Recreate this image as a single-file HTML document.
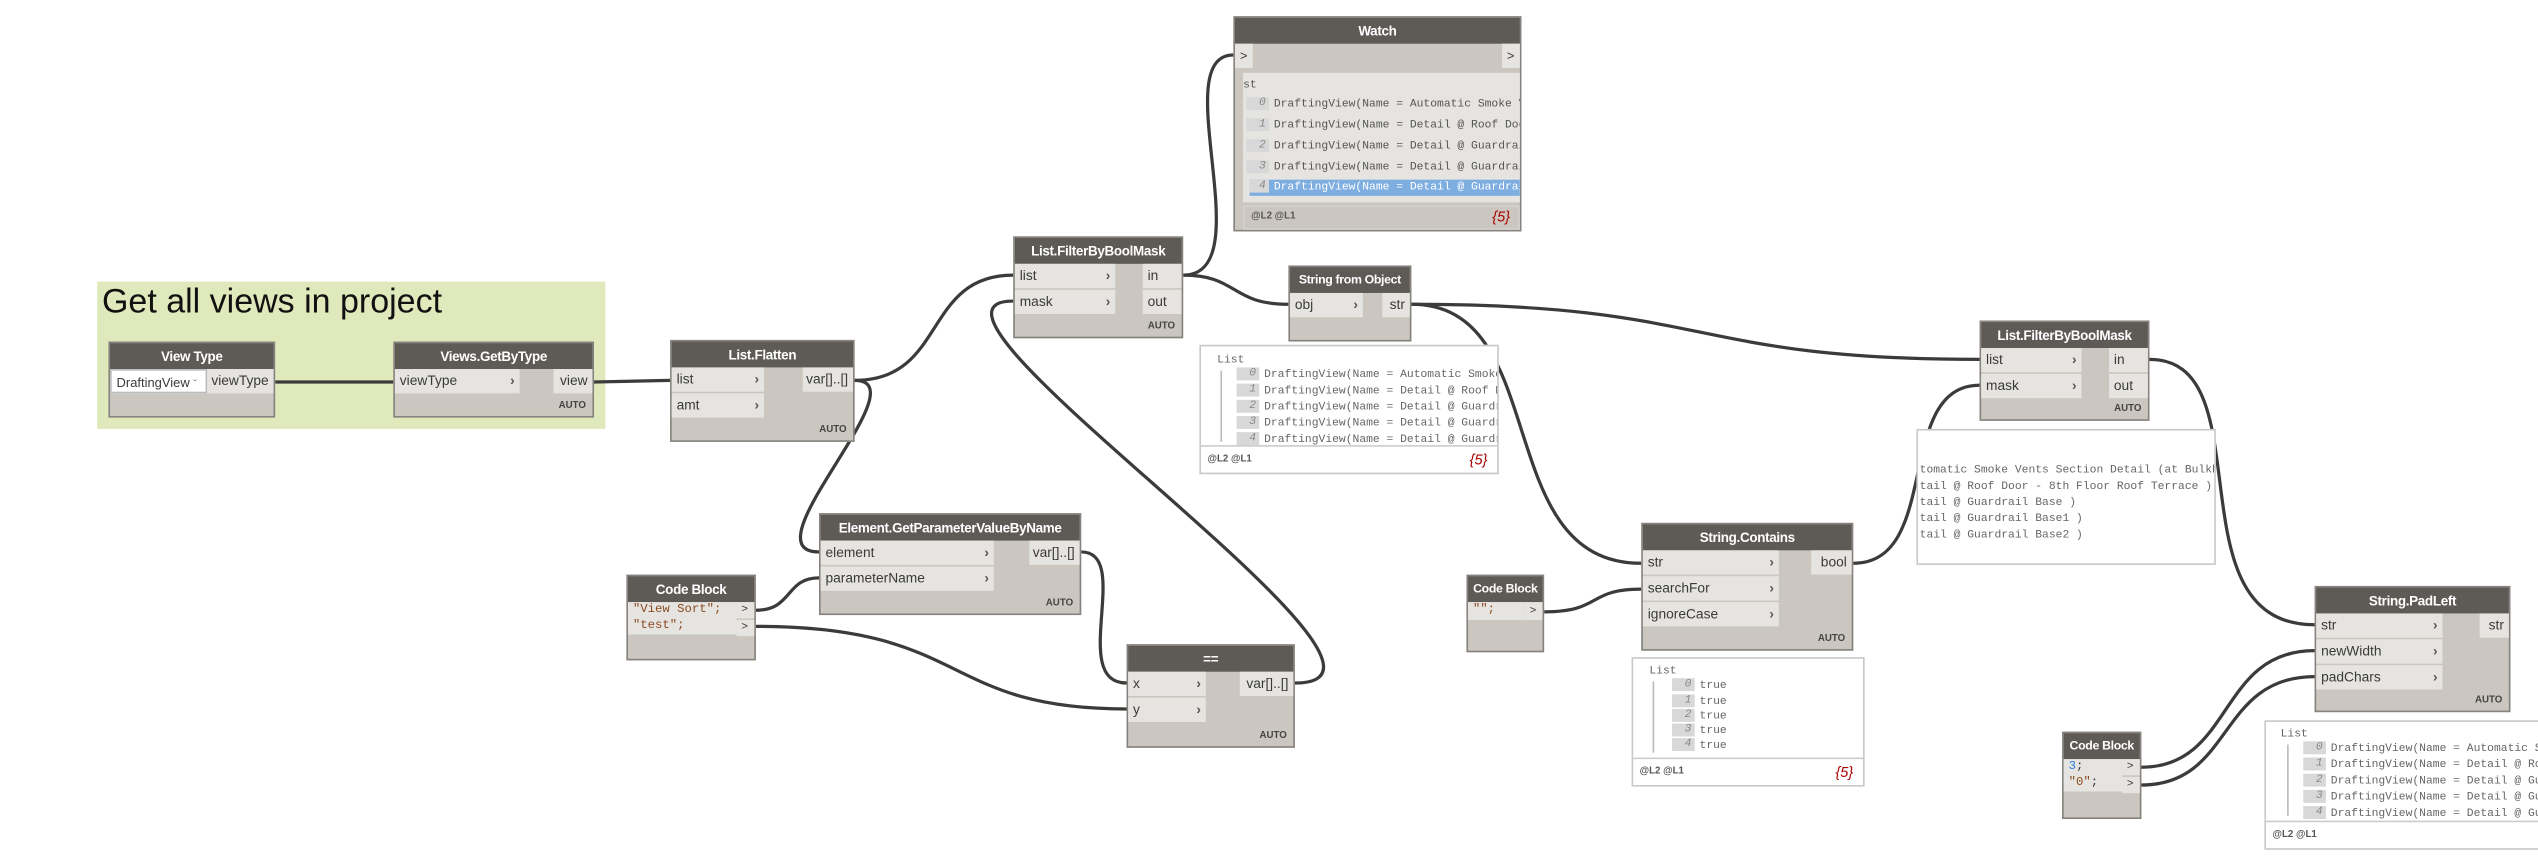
<!DOCTYPE html>
<html><head><meta charset="utf-8">
<style>
html,body{margin:0;padding:0;background:#fff;width:2538px;height:864px;overflow:hidden}
#s{position:absolute;left:0;top:0;width:1568px;height:534px;transform:scale(1.6186);transform-origin:0 0;font-family:"Liberation Sans",sans-serif}
.node{position:absolute;background:#cbc7c0;border:1px solid #86837e;box-sizing:border-box}
.hd{height:16px;background:#5e5b57;color:#fff;font-size:8.3px;font-weight:bold;text-align:center;line-height:16px;white-space:nowrap;overflow:hidden;letter-spacing:-0.2px}
.p{position:absolute;height:15px;background:#e6e4e0;font-size:8.5px;line-height:15px;color:#3a3a3a;box-sizing:border-box;padding-left:3px;white-space:nowrap;overflow:hidden}
.p .c{position:absolute;right:3px;top:0;font-weight:bold;color:#555}
.o{padding-left:0;padding-right:3px;text-align:right}
.auto{position:absolute;right:4px;bottom:3px;font-size:6px;font-weight:bold;color:#444}
.pv{position:absolute;background:#fff;border:1px solid #c8c8c8;box-sizing:border-box;font-family:"Liberation Mono",monospace;font-size:7px;color:#666;overflow:hidden}
.pv .r{position:absolute;white-space:nowrap;line-height:10px}
.ix{display:inline-block;background:#d8d8d8;width:12px;height:8px;line-height:8px;vertical-align:middle;text-align:right;padding-right:2px;margin-right:3px;font-style:italic;color:#888}
.ft{position:absolute;left:0;right:0;bottom:0;height:16px;border-top:1px solid #ccc;font-family:"Liberation Sans",sans-serif;font-size:6px;font-weight:bold;color:#555;line-height:16px;padding-left:4px}
.ft i{position:absolute;right:6px;font-size:9px;font-weight:normal;color:#a00}
.code{font-family:"Liberation Mono",monospace;color:#8b4a1e}
svg{position:absolute;left:0;top:0}
</style></head><body><div id="s">
<div style="position:absolute;left:60px;top:174px;width:314px;height:91px;background:#e0e9bb"></div>
<div style="position:absolute;left:63px;top:175px;font-size:21px;color:#111">Get all views in project</div>

<svg width="1568" height="534" fill="none" stroke="#3d3b39" stroke-width="2">
<path d="M170,236 L243,236"/>
<path d="M367,236 L414,235"/>
<path d="M528,235 C570,235 460,341 506,341"/>
<path d="M528,235 C585,235 570,170 626,170"/>
<path d="M668,341 C700,341 660,422 696,422"/>
<path d="M467,377 C490,377 485,357 506,357"/>
<path d="M467,387 C600,387 580,438 696,438"/>
<path d="M800,422 C900,422 540,186 626,186"/>
<path d="M731,170 C780,170 720,34 762,34"/>
<path d="M731,170 C765,170 760,188 796,188"/>
<path d="M872,188 C960,188 920,348 1014,348"/>
<path d="M872,188 C1060,188 1040,222 1223,222"/>
<path d="M954,378 C990,378 980,364 1014,364"/>
<path d="M1145,348 C1200,348 1170,238 1223,238"/>
<path d="M1328,222 C1400,222 1340,386 1430,386"/>
<path d="M1323,474 C1380,474 1370,402 1430,402"/>
<path d="M1323,485 C1380,485 1370,418 1430,418"/>
</svg>

<!-- View Type -->
<div class="node" style="left:67px;top:211px;width:103px;height:47px"><div class="hd">View Type</div>
<div class="p" style="left:0;top:16px;width:60px;background:#fff;border:1px solid #bbb;font-size:8px">DraftingView <span style="font-size:6px;color:#666">&#711;</span></div>
<div class="p o" style="right:0;top:16px;width:41px">viewType</div></div>
<!-- Views.GetByType -->
<div class="node" style="left:243px;top:211px;width:124px;height:47px"><div class="hd">Views.GetByType</div>
<div class="p" style="left:0;top:16px;width:77px">viewType<span class="c">›</span></div>
<div class="p o" style="right:0;top:16px;width:24px">view</div><div class="auto">AUTO</div></div>
<!-- List.Flatten -->
<div class="node" style="left:414px;top:210px;width:114px;height:63px"><div class="hd">List.Flatten</div>
<div class="p" style="left:0;top:16px;width:57px">list<span class="c">›</span></div>
<div class="p" style="left:0;top:32px;width:57px">amt<span class="c">›</span></div>
<div class="p o" style="right:0;top:16px;width:31px">var[]..[]</div><div class="auto">AUTO</div></div>
<!-- FilterByBoolMask 1 -->
<div class="node" style="left:626px;top:146px;width:105px;height:63px"><div class="hd">List.FilterByBoolMask</div>
<div class="p" style="left:0;top:16px;width:62px">list<span class="c">›</span></div>
<div class="p" style="left:0;top:32px;width:62px">mask<span class="c">›</span></div>
<div class="p" style="right:0;top:16px;width:24px">in</div>
<div class="p" style="right:0;top:32px;width:24px">out</div><div class="auto">AUTO</div></div>
<!-- Watch -->
<div class="node" style="left:762px;top:10px;width:178px;height:133px"><div class="hd">Watch</div>
<div class="p" style="left:0;top:16px;width:11px;font-size:8px">&gt;</div>
<div class="p" style="right:0;top:16px;width:11px;font-size:8px">&gt;</div>
<div style="position:absolute;left:5px;top:34px;width:171px;height:80px;background:#e6e4e0;font-family:'Liberation Mono',monospace;font-size:7px;color:#555;overflow:hidden;white-space:nowrap">
<div style="position:absolute;left:0;top:4px">st</div>
<div style="position:absolute;left:2px;top:15px"><span class="ix">0</span>DraftingView(Name = Automatic Smoke Vents</div>
<div style="position:absolute;left:2px;top:28px"><span class="ix">1</span>DraftingView(Name = Detail @ Roof Door</div>
<div style="position:absolute;left:2px;top:41px"><span class="ix">2</span>DraftingView(Name = Detail @ Guardrail</div>
<div style="position:absolute;left:2px;top:54px"><span class="ix">3</span>DraftingView(Name = Detail @ Guardrail</div>
<div style="position:absolute;left:4px;top:66px;width:167px;height:10px;line-height:10px;background:#7eaee0;color:#fff;overflow:hidden"><span class="ix" style="margin-left:-2px">4</span>DraftingView(Name = Detail @ Guardrail</div></div>
<div style="position:absolute;left:5px;top:116px;width:171px;height:15px;border:1px solid #d4d0ca;box-sizing:border-box;font-size:6px;font-weight:bold;color:#555;line-height:13px;padding-left:4px">@L2 @L1<i style="position:absolute;right:5px;font-size:9px;font-weight:normal;color:#a00">{5}</i></div></div>
<!-- String from Object -->
<div class="node" style="left:796px;top:164px;width:76px;height:47px"><div class="hd" style="font-size:7.6px">String from Object</div>
<div class="p" style="left:0;top:16px;width:45px">obj<span class="c">›</span></div>
<div class="p o" style="right:0;top:16px;width:17px">str</div></div>
<div class="pv" style="left:741px;top:213px;width:185px;height:80px">
<div class="r" style="left:10px;top:4px">List</div>
<div style="position:absolute;left:12px;top:15px;width:1px;height:44px;background:#bbb"></div>
<div class="r" style="left:22px;top:13px"><span class="ix">0</span>DraftingView(Name = Automatic Smoke V</div>
<div class="r" style="left:22px;top:23px"><span class="ix">1</span>DraftingView(Name = Detail @ Roof Doo</div>
<div class="r" style="left:22px;top:33px"><span class="ix">2</span>DraftingView(Name = Detail @ Guardra</div>
<div class="r" style="left:22px;top:43px"><span class="ix">3</span>DraftingView(Name = Detail @ Guardra</div>
<div class="r" style="left:22px;top:53px"><span class="ix">4</span>DraftingView(Name = Detail @ Guardra</div>
<div class="ft">@L2 @L1<i>{5}</i></div></div>
<!-- Element.GetParameterValueByName -->
<div class="node" style="left:506px;top:317px;width:162px;height:63px"><div class="hd">Element.GetParameterValueByName</div>
<div class="p" style="left:0;top:16px;width:107px">element<span class="c">›</span></div>
<div class="p" style="left:0;top:32px;width:107px">parameterName<span class="c">›</span></div>
<div class="p o" style="right:0;top:16px;width:31px">var[]..[]</div><div class="auto">AUTO</div></div>
<!-- Code Block 1 -->
<div class="node" style="left:387px;top:355px;width:80px;height:53px"><div class="hd">Code Block</div>
<div class="p code" style="left:0;top:16px;width:67px;height:20px;line-height:10px;font-size:7.6px">"View Sort";<br>"test";</div>
<div class="p" style="right:0;top:16px;width:11px;height:10px;line-height:10px;font-size:7px">&gt;</div>
<div class="p" style="right:0;top:27px;width:11px;height:10px;line-height:10px;font-size:7px">&gt;</div></div>
<!-- == -->
<div class="node" style="left:696px;top:398px;width:104px;height:64px"><div class="hd">==</div>
<div class="p" style="left:0;top:16px;width:48px">x<span class="c">›</span></div>
<div class="p" style="left:0;top:32px;width:48px">y<span class="c">›</span></div>
<div class="p o" style="right:0;top:16px;width:33px">var[]..[]</div><div class="auto">AUTO</div></div>
<!-- FilterByBoolMask 2 -->
<div class="node" style="left:1223px;top:198px;width:105px;height:62px"><div class="hd">List.FilterByBoolMask</div>
<div class="p" style="left:0;top:16px;width:62px">list<span class="c">›</span></div>
<div class="p" style="left:0;top:32px;width:62px">mask<span class="c">›</span></div>
<div class="p" style="right:0;top:16px;width:24px">in</div>
<div class="p" style="right:0;top:32px;width:24px">out</div><div class="auto">AUTO</div></div>
<div class="pv" style="left:1184px;top:265px;width:185px;height:84px">
<div class="r" style="left:1px;top:20px">tomatic Smoke Vents Section Detail (at Bulkhe</div>
<div class="r" style="left:1px;top:30px">tail @ Roof Door - 8th Floor Roof Terrace )</div>
<div class="r" style="left:1px;top:40px">tail @ Guardrail Base )</div>
<div class="r" style="left:1px;top:50px">tail @ Guardrail Base1 )</div>
<div class="r" style="left:1px;top:60px">tail @ Guardrail Base2 )</div></div>
<!-- String.Contains -->
<div class="node" style="left:1014px;top:323px;width:131px;height:79px"><div class="hd">String.Contains</div>
<div class="p" style="left:0;top:16px;width:84px">str<span class="c">›</span></div>
<div class="p" style="left:0;top:32px;width:84px">searchFor<span class="c">›</span></div>
<div class="p" style="left:0;top:48px;width:84px">ignoreCase<span class="c">›</span></div>
<div class="p o" style="right:0;top:16px;width:25px">bool</div><div class="auto">AUTO</div></div>
<!-- Code block "" -->
<div class="node" style="left:906px;top:355px;width:48px;height:48px"><div class="hd" style="font-size:7.6px">Code Block</div>
<div class="p code" style="left:0;top:16px;width:35px;height:11px;line-height:11px;font-size:7.6px">"";</div>
<div class="p" style="right:0;top:16px;width:11px;height:11px;line-height:11px;font-size:7px">&gt;</div></div>
<div class="pv" style="left:1008px;top:406px;width:144px;height:80px">
<div class="r" style="left:10px;top:3px">List</div>
<div style="position:absolute;left:12px;top:14px;width:1px;height:44px;background:#bbb"></div>
<div class="r" style="left:24px;top:12px"><span class="ix">0</span>true</div>
<div class="r" style="left:24px;top:22px"><span class="ix">1</span>true</div>
<div class="r" style="left:24px;top:31px"><span class="ix">2</span>true</div>
<div class="r" style="left:24px;top:40px"><span class="ix">3</span>true</div>
<div class="r" style="left:24px;top:49px"><span class="ix">4</span>true</div>
<div class="ft">@L2 @L1<i>{5}</i></div></div>
<!-- String.PadLeft -->
<div class="node" style="left:1430px;top:362px;width:121px;height:78px"><div class="hd">String.PadLeft</div>
<div class="p" style="left:0;top:16px;width:78px">str<span class="c">›</span></div>
<div class="p" style="left:0;top:32px;width:78px">newWidth<span class="c">›</span></div>
<div class="p" style="left:0;top:48px;width:78px">padChars<span class="c">›</span></div>
<div class="p o" style="right:0;top:16px;width:18px">str</div><div class="auto">AUTO</div></div>
<!-- Code Block 3 -->
<div class="node" style="left:1274px;top:452px;width:49px;height:54px"><div class="hd" style="font-size:7.6px">Code Block</div>
<div class="p code" style="left:0;top:16px;width:36px;height:20px;line-height:10px;font-size:7.6px"><span style="color:#2a7be0">3</span><span style="color:#333">;</span><br>"0"<span style="color:#333">;</span></div>
<div class="p" style="right:0;top:16px;width:11px;height:10px;line-height:10px;font-size:7px">&gt;</div>
<div class="p" style="right:0;top:27px;width:11px;height:10px;line-height:10px;font-size:7px">&gt;</div></div>
<div class="pv" style="left:1399px;top:445px;width:175px;height:80px">
<div class="r" style="left:9px;top:3px">List</div>
<div style="position:absolute;left:13px;top:14px;width:1px;height:44px;background:#bbb"></div>
<div class="r" style="left:23px;top:12px"><span class="ix">0</span>DraftingView(Name = Automatic Smo</div>
<div class="r" style="left:23px;top:22px"><span class="ix">1</span>DraftingView(Name = Detail @ Roof</div>
<div class="r" style="left:23px;top:32px"><span class="ix">2</span>DraftingView(Name = Detail @ Guar</div>
<div class="r" style="left:23px;top:42px"><span class="ix">3</span>DraftingView(Name = Detail @ Guar</div>
<div class="r" style="left:23px;top:52px"><span class="ix">4</span>DraftingView(Name = Detail @ Guar</div>
<div class="ft">@L2 @L1</div></div>
</div></body></html>
